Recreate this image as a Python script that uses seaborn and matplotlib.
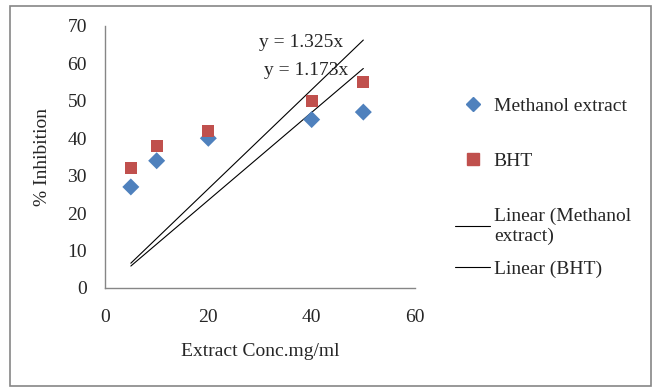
import numpy as np
import pandas as pd
import matplotlib
matplotlib.use("Agg")
import matplotlib.pyplot as plt
from matplotlib.lines import Line2D
from matplotlib.patches import Rectangle
import seaborn as sns

conc = [5, 10, 20, 40, 50]
methanol = [27, 34, 40, 45, 47]
bht = [32, 38, 42, 50, 55]
slope_methanol = 1.173
slope_bht = 1.325
x_ticks = [0, 20, 40, 60]
y_ticks = [0, 10, 20, 30, 40, 50, 60, 70]

sns.set_theme(style="white")
plt.rcParams['font.family'] = ['Liberation Serif', 'DejaVu Serif']

blue = "#4F81BD"
red = "#C0504D"
gray = "#868686"
FS = 14

df = pd.DataFrame({
    "conc": conc * 2,
    "val": methanol + bht,
    "series": ["Methanol extract"] * len(conc) + ["BHT"] * len(conc),
})

fig = plt.figure(figsize=(6.57, 3.92), dpi=100)
ax = fig.add_axes([105/657, 1 - 288/392, (415-105)/657, (288-26)/392])

sns.scatterplot(data=df, x="conc", y="val", hue="series", style="series",
                palette={"Methanol extract": blue, "BHT": red},
                markers={"Methanol extract": "D", "BHT": "s"},
                s=[75], edgecolor="none", ax=ax, legend=False, zorder=3)

xs = np.array([min(conc), max(conc)])
trend = pd.DataFrame({
    "conc": np.concatenate([xs, xs]),
    "val": np.concatenate([slope_methanol * xs, slope_bht * xs]),
    "series": ["m", "m", "b", "b"],
})
sns.lineplot(data=trend, x="conc", y="val", units="series", estimator=None,
             color="black", linewidth=0.8, ax=ax, legend=False, zorder=2)

ax.text(37.9, 65.7, f"y = {slope_bht}x", fontsize=FS, ha="center", va="center")
ax.text(38.9, 58.0, f"y = {slope_methanol}x", fontsize=FS, ha="center", va="center")

ax.set_xlim(0, 60)
ax.set_ylim(0, 70)
ax.set_xticks(x_ticks)
ax.set_yticks(y_ticks)
ax.tick_params(axis="both", length=0, labelsize=FS)
ax.tick_params(axis="x", pad=15)
ax.tick_params(axis="y", pad=13)
for sp in ["top", "right"]:
    ax.spines[sp].set_visible(False)
for sp in ["left", "bottom"]:
    ax.spines[sp].set_color(gray)
    ax.spines[sp].set_linewidth(1.0)
ax.set_xlabel("Extract Conc.mg/ml", fontsize=FS, labelpad=12)
ax.set_ylabel("% Inhibition", fontsize=FS, labelpad=12)

handles = [
    Line2D([], [], marker="D", color=blue, linestyle="none", markersize=7),
    Line2D([], [], marker="s", color=red, linestyle="none", markersize=8),
    Line2D([], [], color="black", linewidth=0.8),
]
labels = ["Methanol extract", "BHT", "Linear (Methanol\nextract)"]
leg1 = fig.legend(handles, labels, loc="upper left", bbox_to_anchor=(455/657, 1 - 97/392),
                  frameon=False, fontsize=FS, labelspacing=1.95, handlelength=1.8,
                  handletextpad=0.2, borderaxespad=0, borderpad=0)
fig.legend([Line2D([], [], color="black", linewidth=0.8)], ["Linear (BHT)"],
           loc="upper left", bbox_to_anchor=(455/657, 1 - 260/392),
           frameon=False, fontsize=FS, handlelength=1.8,
           handletextpad=0.2, borderaxespad=0, borderpad=0)

fig.add_artist(Rectangle((10/657, 1 - 386/392), (651-10)/657, (386-6)/392,
                         transform=fig.transFigure, fill=False,
                         edgecolor=gray, linewidth=1.2))

fig.savefig("out.png", dpi=100)
